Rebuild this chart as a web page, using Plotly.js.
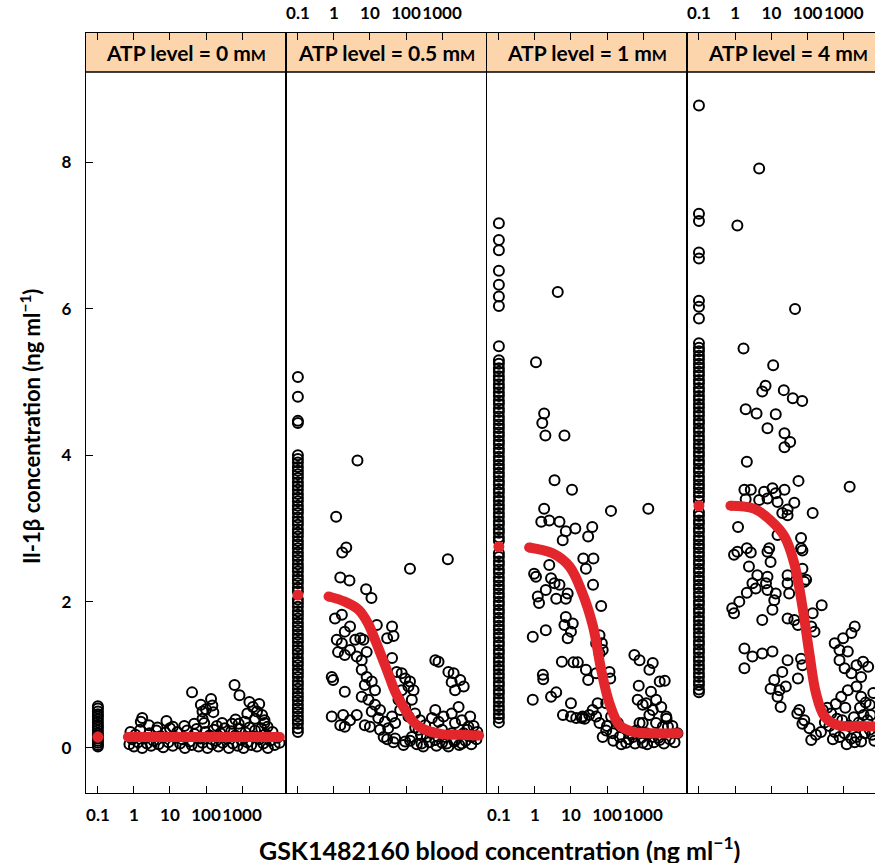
<!DOCTYPE html>
<html><head><meta charset="utf-8">
<script src="https://cdn.plot.ly/plotly-3.0.1.min.js"></script>
<style>html,body{margin:0;padding:0;overflow:hidden;background:#fff}#chart{width:890px;height:863px}</style>
</head><body><div id="chart"></div>
<script>
// ---------- data ----------
const atpLabels = ['0', '0.5', '1', '4'];
const xTickVals = [0.1, 1, 10, 100, 1000];
const xTickText = ['0.1', '1', '10', '100', '1000'];
const yTickVals = [0, 2, 4, 6, 8];
const yTickText = ['0', '2', '4', '6', '8'];
const placeboConc = 0.1;

// placebo (x = 0.1) IL-1beta values, ng/ml
const placebo0 = [0.57, 0.54, 0.50, 0.46, 0.43, 0.39, 0.35, 0.31, 0.28, 0.24, 0.20, 0.17, 0.13, 0.10, 0.07, 0.04, 0.02];
const placebo05 = [5.07, 4.80, 4.47, 4.44, 4.00, 3.95, 3.90, 3.84, 3.79, 3.74, 3.69, 3.63, 3.58, 3.53, 3.47, 3.42, 3.37, 3.31, 3.26, 3.21, 3.15, 3.10, 3.05, 2.99, 2.94, 2.89, 2.83, 2.78, 2.73, 2.67, 2.62, 2.57, 2.51, 2.46, 2.41, 2.35, 2.30, 2.25, 2.19, 2.14, 2.03, 1.98, 1.93, 1.87, 1.82, 1.77, 1.71, 1.66, 1.61, 1.55, 1.50, 1.45, 1.39, 1.34, 1.29, 1.23, 1.18, 1.13, 1.07, 1.02, 0.97, 0.91, 0.86, 0.81, 0.75, 0.70, 0.65, 0.59, 0.54, 0.49, 0.43, 0.38, 0.33, 0.27, 0.22];
const placebo1 = [7.17, 6.94, 6.80, 6.52, 6.33, 6.17, 6.04, 5.49, 5.30, 5.25, 5.19, 5.14, 5.08, 5.03, 4.97, 4.92, 4.86, 4.81, 4.75, 4.70, 4.64, 4.59, 4.53, 4.48, 4.42, 4.37, 4.31, 4.26, 4.20, 4.15, 4.09, 4.04, 3.98, 3.93, 3.87, 3.82, 3.76, 3.71, 3.65, 3.60, 3.54, 3.49, 3.43, 3.38, 3.32, 3.27, 3.21, 3.16, 3.10, 3.05, 2.99, 2.94, 2.88, 2.83, 2.66, 2.61, 2.55, 2.50, 2.44, 2.39, 2.33, 2.28, 2.22, 2.17, 2.11, 2.06, 2.00, 1.95, 1.89, 1.84, 1.78, 1.73, 1.67, 1.62, 1.56, 1.51, 1.45, 1.40, 1.34, 1.29, 1.23, 1.18, 1.12, 1.07, 1.01, 0.96, 0.90, 0.85, 0.79, 0.74, 0.68, 0.63, 0.57, 0.52, 0.46, 0.41, 0.35];
const placebo4 = [8.78, 7.30, 7.20, 6.77, 6.69, 6.11, 6.03, 5.87, 5.53, 5.47, 5.42, 5.36, 5.31, 5.25, 5.20, 5.14, 5.09, 5.03, 4.98, 4.92, 4.87, 4.81, 4.76, 4.70, 4.65, 4.59, 4.54, 4.48, 4.43, 4.37, 4.32, 4.26, 4.21, 4.15, 4.10, 4.04, 3.99, 3.93, 3.88, 3.82, 3.77, 3.71, 3.66, 3.60, 3.55, 3.49, 3.44, 3.38, 3.22, 3.17, 3.11, 3.06, 3.00, 2.95, 2.89, 2.84, 2.78, 2.73, 2.67, 2.62, 2.56, 2.51, 2.45, 2.40, 2.34, 2.29, 2.23, 2.18, 2.12, 2.07, 2.01, 1.96, 1.90, 1.85, 1.79, 1.74, 1.68, 1.63, 1.57, 1.52, 1.46, 1.41, 1.35, 1.30, 1.24, 1.19, 1.13, 1.08, 1.02, 0.97, 0.91, 0.86, 0.80, 0.76];

// active treatment: [blood conc ng/ml, IL-1beta ng/ml]
const active0 = [[41,0.76],[620,0.86],[850,0.72],[138,0.67],[72,0.59],[150,0.58],[100,0.53],[80,0.50],[160,0.49],[1600,0.63],[2000,0.56],[3000,0.60],[2600,0.50],[1400,0.47],[3600,0.45],[4200,0.38],[2300,0.40],
[1.7,0.41],[1.55,0.36],[2.6,0.31],[8,0.37],[47,0.33],[80,0.40],[89,0.34],[280,0.34],[660,0.39],[810,0.33],[525,0.33],[5100,0.29],[4200,0.34],[25,0.30],[12,0.29],[4.5,0.28],[200,0.30],[1200,0.36],
[0.75,0.05],[0.8,0.22],[0.9,0.12],[1.0,0.02],[1.1,0.18],[1.3,0.08],[1.5,0.25],[1.7,0.0],[2.0,0.14],[2.3,0.06],[2.7,0.20],[3.0,0.03],[3.5,0.10],[4.2,0.24],[4.8,0.05],[5.5,0.16],[6.5,0.01],[7.5,0.21],[9,0.08],[10,0.27],[12,0.03],[14,0.15],[16,0.22],[19,0.06],[22,0.12],[26,0.0],[30,0.24],[35,0.09],[40,0.04],[48,0.19],[55,0.26],[62,0.02],[70,0.13],[80,0.07],[95,0.22],[110,0.0],[125,0.17],[145,0.05],[165,0.25],[190,0.10],[220,0.02],[250,0.20],[290,0.07],[330,0.27],[380,0.13],[430,0.0],[500,0.23],[560,0.06],[650,0.17],[750,0.03],[850,0.26],[950,0.11],[1100,0.0],[1250,0.21],[1400,0.08],[1600,0.28],[1800,0.04],[2000,0.16],[2300,0.24],[2600,0.02],[3000,0.12],[3400,0.27],[3900,0.06],[4500,0.19],[5200,0.0],[6000,0.10],[7000,0.22],[8000,0.04],[9500,0.14],[11000,0.07]];

const active05 = [[4.5,3.93],[1.15,3.16],[2.2,2.74],[1.7,2.67],[129,2.45],[1450,2.58],[1.5,2.33],[2.7,2.29],[7.8,2.17],[11,2.05],
[1.07,1.77],[1.66,1.82],[2.8,1.66],[2.0,1.59],[1.2,1.48],[1.66,1.43],[3.9,1.48],[5.4,1.50],[6.6,1.48],[15.5,1.68],[41,1.66],[30,1.50],[45,1.53],
[1.3,1.31],[2.0,1.27],[2.8,1.34],[4.3,1.25],[5.9,1.20],[8.1,1.31],[41,1.23],[0.87,0.97],[0.95,0.93],[2.0,0.77],[5.9,1.07],[8.1,0.97],[11.2,0.91],[7.2,0.86],[13.8,0.79],
[55,1.04],[76,1.02],[95,0.95],[129,0.91],[117,0.84],[162,0.79],[76,0.79],[650,1.20],[800,1.18],[1500,1.04],[2100,1.02],[3200,0.93],[4000,0.84],[2300,0.79],[1850,0.90],
[0.87,0.43],[1.8,0.45],[2.8,0.38],[4.3,0.45],[1.5,0.31],[2.0,0.29],[5.9,0.70],[9.1,0.66],[13.8,0.59],[19,0.52],[11.2,0.50],[17,0.41],[26,0.36],[41,0.43],[50,0.34],[32,0.27],[19,0.25],[10,0.29],[7.2,0.31],
[62,0.66],[95,0.56],[145,0.66],[69,0.52],[117,0.43],[178,0.47],[245,0.38],[340,0.31],[224,0.25],[380,0.15],[525,0.20],[650,0.11],[1000,0.25],[1230,0.15],[1860,0.20],[2290,0.34],[3550,0.38],[5370,0.29],[3980,0.20],[2290,0.11],[1350,0.06],[3550,0.06],[6760,0.15],[6030,0.43],[2880,0.56],[1860,0.47],[1100,0.43],[650,0.52],[525,0.41],[800,0.36],
[145,0.15],[95,0.09],[50,0.13],[270,0.06],[24,0.15],[30,0.12],[45,0.08],[85,0.04],[130,0.10],[200,0.05],[300,0.02],[450,0.08],[700,0.03],[1000,0.07],[1500,0.02],[2200,0.09],[3000,0.04],[4500,0.10],[6500,0.05],[9000,0.12],[9500,0.22],[7500,0.30],[5000,0.25],[260,0.18],[180,0.28]];

const active1 = [[4.3,6.23],[1.07,5.27],[1.8,4.57],[1.6,4.44],[1.95,4.27],[6.6,4.27],[3.5,3.66],[10.7,3.53],[129,3.24],[1400,3.27],[1.8,3.27],[1.5,3.09],[2.5,3.11],[4.8,3.09],[7.2,2.96],[13.2,3.0],[5.9,2.84],[39,3.02],[30,2.89],[22,2.59],[42,2.59],[26,2.45],
[0.95,2.38],[1.07,2.34],[2.5,2.50],[2.8,2.32],[2.0,2.16],[3.5,2.25],[4.8,2.23],[1.2,2.07],[1.3,1.98],[3.9,2.04],[8.1,2.11],[7.2,2.04],[41,2.23],[69,1.94],[7.2,1.79],[11.2,1.70],[6.6,1.68],[10,1.59],[8.1,1.50],[2.0,1.61],[0.87,1.52],[62,1.54],[72,1.43],[76,1.34],[50,1.43],[62,1.29],
[5.6,1.18],[11.7,1.17],[15.5,1.17],[26,1.07],[30,0.93],[50,1.02],[117,1.04],[123,0.95],[1.66,1.0],[1.7,0.94],[575,1.27],[800,1.20],[1860,1.16],[1500,1.07],[2900,0.91],[4000,0.92],[760,0.85],[1660,0.77],[980,0.59],[1860,0.52],[4400,0.43],
[0.87,0.66],[2.8,0.70],[3.9,0.76],[10,0.61],[6,0.45],[10,0.43],[14,0.41],[20,0.41],[24,0.40],[21,0.43],[32,0.45],
[710,0.66],[1230,0.61],[2300,0.66],[3200,0.56],[1500,0.45],[2300,0.34],[980,0.34],[3550,0.29],[4900,0.29],[650,0.24],[1230,0.20],[1860,0.15],[2900,0.11],[980,0.07],[525,0.15],[340,0.07],[224,0.15],[145,0.20],[95,0.24],[62,0.34],[50,0.43],[40,0.52],[55,0.61],[95,0.61],[130,0.43],[200,0.34],[76,0.15],[420,0.20],[800,0.34],
[150,0.10],[250,0.05],[400,0.12],[600,0.06],[900,0.14],[1300,0.05],[2000,0.08],[2700,0.14],[3800,0.06],[5500,0.12],[7500,0.08],[9000,0.20],[6500,0.30],[4500,0.40],[100,0.30]];

const active4 = [[4.6,7.92],[1.15,7.14],[45,6.00],[1.7,5.46],[11.2,5.23],[6.9,4.95],[5.6,4.87],[22,4.89],[39,4.78],[71,4.74],[1.95,4.63],[3.9,4.57],[13.2,4.56],[7.8,4.37],[23,4.30],[33,4.18],[23,4.11],[2.1,3.91],[56,3.65],[1450,3.57],
[1.8,3.53],[2.7,3.53],[6.3,3.50],[10.7,3.55],[13.2,3.48],[23,3.53],[1.95,3.40],[4.6,3.39],[7.8,3.41],[14.8,3.36],[43,3.35],[28,3.26],[20,3.21],[28,3.18],[138,3.21],[1.2,3.02],[14.8,2.91],[66,2.87],[66,2.73],[72,2.70],
[0.93,2.64],[1.15,2.68],[2.1,2.73],[2.7,2.67],[8.7,2.73],[7.8,2.68],[2.4,2.48],[4.1,2.36],[7.8,2.34],[9.5,2.54],[28,2.36],[72,2.45],[81,2.27],[91,2.30],[3.0,2.25],[3.7,2.18],[7.1,2.25],[7.8,2.16],[13.2,2.11],[12,2.02],[28,2.25],[31,2.11],
[2.1,2.12],[1.3,2.0],[0.83,1.91],[0.93,1.84],[10.7,1.89],[5.6,1.75],[28,1.77],[43,1.75],[54,1.68],[138,1.84],[245,1.95],[126,1.66],[155,1.59],[1.8,1.36],[3.0,1.25],[5.6,1.29],[10.7,1.32],[1.8,1.09],[28,1.20],[66,1.22],[72,1.13],[54,0.95],[20,1.04],[12,0.93],[9.5,0.81],[16.6,0.79],[14.8,0.70],[25,0.84],[18,0.56],
[2000,1.66],[1620,1.57],[955,1.50],[560,1.43],[760,1.34],[1290,1.32],[3400,1.18],[2240,1.13],[760,1.20],[1050,1.09],[1620,1.02],[3000,0.97],[4700,1.11],[2240,0.84],[1290,0.79],[850,0.70],[3000,0.70],[5200,0.59],[6500,0.75],
[59,0.52],[81,0.38],[112,0.27],[170,0.18],[234,0.22],[263,0.52],[447,0.47],[560,0.22],[760,0.15],[1050,0.20],[1620,0.13],[2240,0.15],[3000,0.09],[3800,0.20],[5200,0.25],[126,0.11],[72,0.33],[52,0.47],
[300,0.35],[400,0.30],[650,0.40],[900,0.38],[1400,0.30],[1900,0.42],[2600,0.35],[3500,0.45],[4500,0.38],[6000,0.18],[7000,0.10],[500,0.12],[1200,0.05],[2000,0.08],[350,0.55],[600,0.60],[1100,0.55],[2800,0.55],[4000,0.62],[5500,0.45]];

// model prediction (red)
const fitConc0 = [0.68, 1, 10, 100, 1000, 11200];
const fitIl0 = [0.15, 0.15, 0.15, 0.15, 0.15, 0.15];
const fitConc05 = [0.71, 2.0, 4.8, 8.9, 13.8, 20, 32, 50, 95, 158, 275, 980, 3160, 10700];
const fitIl05 = [2.07, 2.0, 1.89, 1.70, 1.48, 1.28, 1.02, 0.77, 0.52, 0.36, 0.27, 0.19, 0.18, 0.17];
const fitConc1 = [0.69, 3.1, 9.1, 21, 41, 69, 117, 224, 525, 2000, 9300];
const fitIl1 = [2.74, 2.66, 2.48, 2.11, 1.66, 1.07, 0.61, 0.31, 0.22, 0.20, 0.20];
const fitConc4 = [0.74, 3.3, 9.5, 23, 43, 72, 112, 170, 295, 690, 2500, 10000];
const fitIl4 = [3.31, 3.27, 3.11, 2.89, 2.52, 1.93, 1.29, 0.75, 0.43, 0.31, 0.30, 0.29];
const fitPlacebo = [0.15, 2.09, 2.75, 3.31];

// ---------- drawing ----------
const W = 890, H = 863;
const lefts = [86, 286, 487, 687], rights = [286, 486, 687, 888];
const topPx = 33, bottomPx = 793, stripPx = 72;
const FONT = 'Lato, "Open Sans", sans-serif';
const RED = '#e3262b';
const placeboSets = [placebo0, placebo05, placebo1, placebo4];
const activeSets = [active0, active05, active1, active4];
const fitX = [fitConc0, fitConc05, fitConc1, fitConc4];
const fitY = [fitIl0, fitIl05, fitIl1, fitIl4];
const bold = s => '<b>' + s + '</b>';

const traces = [];
const layout = {
  width: W, height: H, margin: {l: 0, r: 0, t: 0, b: 0},
  paper_bgcolor: '#fff', plot_bgcolor: 'rgba(0,0,0,0)',
  showlegend: false, shapes: [], annotations: []
};
const yDom = [1 - bottomPx / H, 1 - topPx / H];
const tickFont = {family: FONT, size: 17, color: '#000'};

for (let i = 0; i < 4; i++) {
  const sx = i ? String(i + 1) : '';
  const xa = 'x' + sx, ya = 'y' + sx;
  const mk = {symbol: 'circle-open', size: 10, color: '#000', line: {width: 2, color: '#000'}};
  traces.push({type: 'scatter', mode: 'markers', xaxis: xa, yaxis: ya,
    x: placeboSets[i].map(() => placeboConc), y: placeboSets[i], marker: mk, hoverinfo: 'skip'});
  traces.push({type: 'scatter', mode: 'markers', xaxis: xa, yaxis: ya,
    x: activeSets[i].map(p => p[0]), y: activeSets[i].map(p => p[1]), marker: mk, hoverinfo: 'skip'});
  traces.push({type: 'scatter', mode: 'lines', xaxis: xa, yaxis: ya,
    x: fitX[i], y: fitY[i], line: {color: RED, width: 10, shape: 'spline', smoothing: 1}, hoverinfo: 'skip'});
  traces.push({type: 'scatter', mode: 'markers', xaxis: xa, yaxis: ya,
    x: [fitX[i][0], fitX[i][fitX[i].length - 1]], y: [fitY[i][0], fitY[i][fitY[i].length - 1]],
    marker: {color: RED, size: 10}, hoverinfo: 'skip'});
  traces.push({type: 'scatter', mode: 'markers', xaxis: xa, yaxis: ya,
    x: [placeboConc], y: [fitPlacebo[i]], marker: {color: RED, size: 11}, hoverinfo: 'skip'});

  layout['xaxis' + sx] = {
    domain: [lefts[i] / W, rights[i] / W], anchor: ya, type: 'log', range: [-1.33, 4.22],
    tickmode: 'array', tickvals: xTickVals, ticktext: xTickText.map(bold), tickangle: 0,
    ticks: 'inside', ticklen: 7, tickwidth: 1, tickcolor: '#000',
    showline: true, linecolor: '#000', linewidth: 1.3, mirror: 'allticks',
    side: (i % 2) ? 'top' : 'bottom', showgrid: false, zeroline: false,
    tickfont: tickFont, ticklabelstandoff: 6, fixedrange: true
  };
  layout['yaxis' + sx] = {
    domain: yDom, anchor: xa, range: [-0.615, 9.77],
    tickmode: 'array', tickvals: yTickVals, ticktext: yTickText.map(bold),
    ticks: i === 0 ? 'inside' : '', ticklen: 7, tickwidth: 1, tickcolor: '#000',
    showticklabels: i === 0, showline: true, linecolor: '#000', linewidth: 1.3, mirror: true,
    showgrid: false, zeroline: false, tickfont: tickFont, ticklabelstandoff: 10, fixedrange: true
  };
  layout.shapes.push({type: 'rect', xref: 'paper', yref: 'paper', layer: 'below',
    x0: lefts[i] / W, x1: rights[i] / W, y0: 1 - stripPx / H, y1: 1 - topPx / H,
    fillcolor: '#fdd5ad', line: {width: 0}});
  layout.annotations.push({xref: 'paper', yref: 'paper', x: (lefts[i] + rights[i]) / 2 / W,
    y: 1 - (topPx + stripPx) / 2 / H, xanchor: 'center', yanchor: 'middle', showarrow: false,
    text: bold('ATP level = ' + atpLabels[i] + ' m<span style="font-size:16px">M</span>'),
    font: {family: FONT, size: 21, color: '#000'}});
}
layout.shapes.push({type: 'line', xref: 'paper', yref: 'paper', layer: 'above',
  x0: lefts[0] / W, x1: rights[3] / W, y0: 1 - stripPx / H, y1: 1 - stripPx / H,
  line: {color: '#000', width: 1.3}});
layout.annotations.push({xref: 'paper', yref: 'paper', x: 499 / W, y: 1 - 848 / H,
  xanchor: 'center', yanchor: 'middle', showarrow: false,
  text: bold('GSK1482160 blood concentration (ng ml<sup>\u22121</sup>)'),
  font: {family: FONT, size: 25, color: '#000'}});
layout.annotations.push({xref: 'paper', yref: 'paper', x: 30 / W, y: 1 - 427 / H,
  xanchor: 'center', yanchor: 'middle', showarrow: false, textangle: -90,
  text: bold('Il-1\u03b2 concentration (ng ml<sup>\u22121</sup>)'),
  font: {family: FONT, size: 22, color: '#000'}});

Plotly.newPlot('chart', traces, layout, {staticPlot: true, displayModeBar: false});
</script></body></html>
